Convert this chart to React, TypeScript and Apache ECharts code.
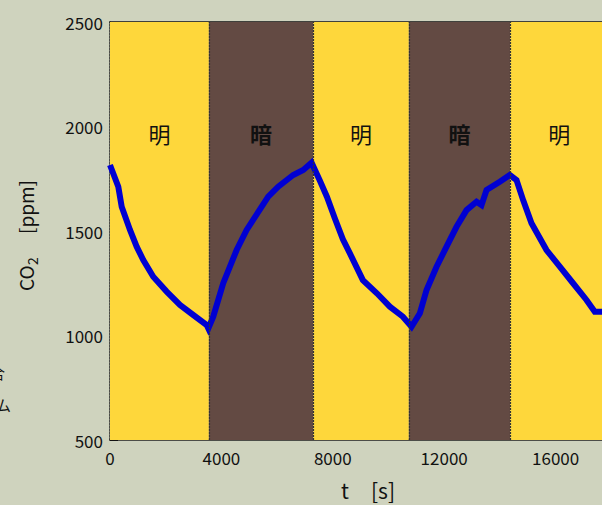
import React, { useEffect, useRef } from "react";
import * as echarts from "echarts";

// CO2 concentration [ppm], time [s]
const lightPhase1: [number, number][] = [
  [0, 1816], [298, 1712], [420, 1616], [718, 1505], [958, 1425], [1195, 1361],
  [1554, 1281], [2035, 1210], [2512, 1146], [2990, 1098], [3471, 1050], [3529, 1034],
];
const darkPhase1: [number, number][] = [
  [3707, 1090], [4066, 1250], [4547, 1409], [4906, 1505], [5681, 1664],
  [6040, 1712], [6579, 1768], [6938, 1792], [7239, 1827],
];
const lightPhase2: [number, number][] = [
  [7537, 1740], [7788, 1664], [8075, 1560], [8362, 1460], [8614, 1393],
  [9080, 1265], [9583, 1202], [10049, 1138], [10516, 1090], [10828, 1042],
];
const darkPhase2: [number, number][] = [
  [11126, 1106], [11366, 1218], [11725, 1329], [12084, 1425], [12443, 1520],
  [12802, 1600], [13161, 1640], [13340, 1624], [13520, 1696], [13997, 1736], [14356, 1768],
];
const lightPhase3: [number, number][] = [
  [14597, 1744], [14834, 1648], [15135, 1537], [15673, 1409], [16151, 1329],
  [16628, 1250], [17109, 1170], [17407, 1114], [17658, 1114], [17900, 1110],
];

// light (明) / dark (暗) periods
const bandLabels = ["明", "暗", "明", "暗", "明"];
const bandStarts = [0, 3550, 7300, 10730, 14370];
const bandEnds = [3550, 7300, 10730, 14370, 17900];

const xTicks = { min: 0, max: 20000, interval: 4000 };
const yTicks = { min: 500, max: 2500, interval: 500 };

const YELLOW = "#fed73b";
const BROWN = "#634a43";
const BG = "#cfd3be";
const FONT = "'Noto Sans CJK JP', 'Noto Sans', sans-serif";

export default function App() {
  const ref = useRef<HTMLDivElement>(null);
  useEffect(() => {
    if (!ref.current) return;
    const chart = echarts.init(ref.current, null, { renderer: "svg" });
    const data = [...lightPhase1, ...darkPhase1, ...lightPhase2, ...darkPhase2, ...lightPhase3];
    const areas = bandLabels.map((name, i) => [
      {
        name,
        xAxis: bandStarts[i],
        itemStyle: { color: name === "明" ? YELLOW : BROWN },
        label: { fontWeight: name === "暗" ? "bold" : "normal" },
      },
      { xAxis: bandEnds[i] },
    ]);
    const boundaries = bandStarts.slice(1).map((v) => ({ xAxis: v }));
    const axisCommon = {
      type: "value" as const,
      splitLine: { show: false },
      axisTick: { show: true, inside: true, length: 8, lineStyle: { color: "#111", width: 1 } },
    };
    const plain = (v: number) => String(v);
    chart.setOption({
      animation: false,
      backgroundColor: BG,
      textStyle: { fontFamily: FONT },
      grid: { left: 110, top: 22, width: 557, height: 418, containLabel: false, outerBoundsMode: "none" },
      xAxis: [
        {
          ...axisCommon,
          position: "bottom",
          min: xTicks.min,
          max: xTicks.max,
          interval: xTicks.interval,
          axisLine: { show: true, onZero: false, lineStyle: { color: "#222", type: [2, 1], width: 1.5 } },
          axisLabel: {
            fontSize: 17,
            color: "#111",
            margin: 9,
            fontFamily: FONT,
            formatter: (v: number) => (v >= xTicks.max ? "" : String(v)),
          },
        },
        {
          ...axisCommon,
          position: "top",
          min: xTicks.min,
          max: xTicks.max,
          interval: xTicks.interval,
          axisLine: { show: true, lineStyle: { color: "#111", width: 1.5 } },
          axisLabel: { show: false },
        },
      ],
      yAxis: [
        {
          ...axisCommon,
          position: "left",
          min: yTicks.min,
          max: yTicks.max,
          interval: yTicks.interval,
          axisLine: { show: true, onZero: false, lineStyle: { color: "#222", type: [2, 1], width: 1.5 } },
          axisLabel: { fontSize: 17, color: "#111", margin: 7, fontFamily: FONT, formatter: plain },
        },
      ],
      series: [
        {
          type: "line",
          z: 1,
          data: [],
          silent: true,
          markArea: {
            silent: true,
            data: areas,
            label: {
              show: true,
              position: "insideTop",
              distance: 100,
              fontSize: 22,
              color: "#111",
              fontFamily: FONT,
            },
          },
          markLine: {
            silent: true,
            symbol: "none",
            label: { show: false },
            lineStyle: { color: "#333", type: [2, 1], width: 1.2 },
            data: boundaries,
          },
        },
        {
          type: "line",
          z: 3,
          data,
          showSymbol: false,
          symbol: "none",
          lineStyle: { color: "#0000d2", width: 6, join: "miter" },
        },
      ],
      graphic: [
        {
          type: "group",
          x: 25,
          y: 234,
          rotation: Math.PI / 2,
          children: [
            { type: "text", x: -57, y: 0, style: { text: "CO", fontSize: 19, fill: "#111", fontFamily: FONT, textAlign: "left", textVerticalAlign: "middle" } },
            { type: "text", x: -31, y: 7, style: { text: "2", fontSize: 14, fill: "#111", fontFamily: FONT, textAlign: "left", textVerticalAlign: "middle" } },
            { type: "text", x: 0, y: 0, style: { text: "[ppm]", fontSize: 19, fill: "#111", fontFamily: FONT, textAlign: "left", textVerticalAlign: "middle" } },
          ],
        },
        { type: "text", x: 341, y: 490, style: { text: "t", fontSize: 21, fill: "#111", fontFamily: FONT, textAlign: "left", textVerticalAlign: "middle" } },
        { type: "text", x: 371, y: 490, style: { text: "[s]", fontSize: 21, fill: "#111", fontFamily: FONT, textAlign: "left", textVerticalAlign: "middle" } },
        { type: "text", x: -10, y: 372, style: { text: "合", fontSize: 15, fill: "#111", fontFamily: FONT, textAlign: "left", textVerticalAlign: "middle" } },
        { type: "text", x: -4, y: 404, style: { text: "ム", fontSize: 15, fill: "#111", fontFamily: FONT, textAlign: "left", textVerticalAlign: "middle" } },
      ],
    });
    return () => chart.dispose();
  }, []);
  return (
    <div
      ref={ref}
      style={{ position: "fixed", left: 0, top: 0, width: 602, height: 505 }}
    />
  );
}
